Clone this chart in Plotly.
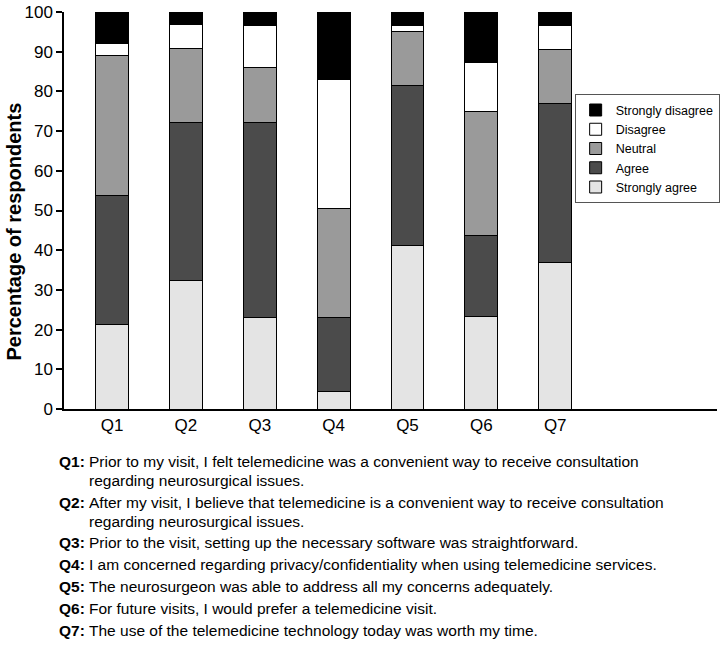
import plotly.graph_objects as go

questions = ["Q1", "Q2", "Q3", "Q4", "Q5", "Q6", "Q7"]
strongly_agree = [21.4, 32.3, 23.0, 4.5, 41.3, 23.3, 36.8]
agree = [32.4, 39.9, 49.2, 18.6, 40.2, 20.4, 40.1]
neutral = [35.3, 18.5, 13.8, 27.5, 13.7, 31.3, 13.7]
disagree = [3.0, 6.1, 10.7, 32.3, 1.5, 12.3, 6.1]
strongly_disagree = [7.9, 3.2, 3.3, 17.1, 3.3, 12.7, 3.3]

footnotes = [
    ("Q1:", ["Prior to my visit, I felt telemedicine was a convenient way to receive consultation",
             "regarding neurosurgical issues."]),
    ("Q2:", ["After my visit, I believe that telemedicine is a convenient way to receive consultation",
             "regarding neurosurgical issues."]),
    ("Q3:", ["Prior to the visit, setting up the necessary software was straightforward."]),
    ("Q4:", ["I am concerned regarding privacy/confidentiality when using telemedicine services."]),
    ("Q5:", ["The neurosurgeon was able to address all my concerns adequately."]),
    ("Q6:", ["For future visits, I would prefer a telemedicine visit."]),
    ("Q7:", ["The use of the telemedicine technology today was worth my time."]),
]

series = [
    ("Strongly agree", strongly_agree, "#e4e4e4"),
    ("Agree", agree, "#4b4b4b"),
    ("Neutral", neutral, "#9a9a9a"),
    ("Disagree", disagree, "#ffffff"),
    ("Strongly disagree", strongly_disagree, "#000000"),
]

FONT = "Liberation Sans, Arial, sans-serif"
W, H = 723, 646
ML, MR, MT, MB = 64, 3, 9, 237
PW, PH = W - ML - MR, H - MT - MB


def px(x):
    return (x - ML) / PW


def py(y):
    return (H - MB - y) / PH


fig = go.Figure()
for name, vals, col in series:
    fig.add_trace(go.Bar(
        x=questions, y=vals, name=name, width=0.445,
        marker=dict(color=col, line=dict(color="#000000", width=1)),
    ))

annotations = []
annotations.append(dict(
    text="<b>Percentage of respondents</b>", textangle=-90,
    xref="paper", yref="paper", x=px(14), y=py(230),
    xanchor="center", yanchor="middle", showarrow=False,
    font=dict(family=FONT, size=20, color="#000000"),
))

ypos = 462
for label, lines in footnotes:
    annotations.append(dict(
        text="<b>" + label + "</b>", xref="paper", yref="paper",
        x=px(57), y=py(ypos), xanchor="left", yanchor="middle",
        showarrow=False, font=dict(family=FONT, size=15.5, color="#000000"),
    ))
    for i, line in enumerate(lines):
        annotations.append(dict(
            text=line, xref="paper", yref="paper",
            x=px(87), y=py(ypos + i * 19), xanchor="left", yanchor="middle",
            showarrow=False, font=dict(family=FONT, size=15.5, color="#000000"),
        ))
    ypos += 19 * (len(lines) - 1) + 22

fig.update_layout(
    width=W, height=H,
    margin=dict(l=ML, r=MR, t=MT, b=MB, pad=0),
    barmode="stack",
    plot_bgcolor="#ffffff", paper_bgcolor="#ffffff",
    font=dict(family=FONT, color="#000000"),
    showlegend=True,
    legend=dict(
        x=px(577), y=py(92), xanchor="left", yanchor="top",
        traceorder="reversed", bordercolor="#555555", borderwidth=1,
        bgcolor="#ffffff", font=dict(family=FONT, size=12.5, color="#000000"),
        itemwidth=30, tracegroupgap=0,
    ),
    annotations=annotations,
    xaxis=dict(
        type="category", range=[-0.65, 8.19],
        showline=True, linecolor="#000000", linewidth=1.5,
        ticks="", tickfont=dict(family=FONT, size=17, color="#000000"),
        showgrid=False, zeroline=False, fixedrange=True,
    ),
    yaxis=dict(
        range=[0, 100], dtick=10, tick0=0,
        showline=True, linecolor="#000000", linewidth=1.5,
        ticks="outside", ticklen=6, tickwidth=1.5, tickcolor="#000000",
        tickfont=dict(family=FONT, size=17, color="#000000"),
        ticklabeloverflow="allow",
        showgrid=False, zeroline=False,
    ),
)

fig.write_html(
    "out.html",
    config={"displayModeBar": False},
    post_script="document.body.style.margin='0px';document.body.style.overflow='hidden';",
)
